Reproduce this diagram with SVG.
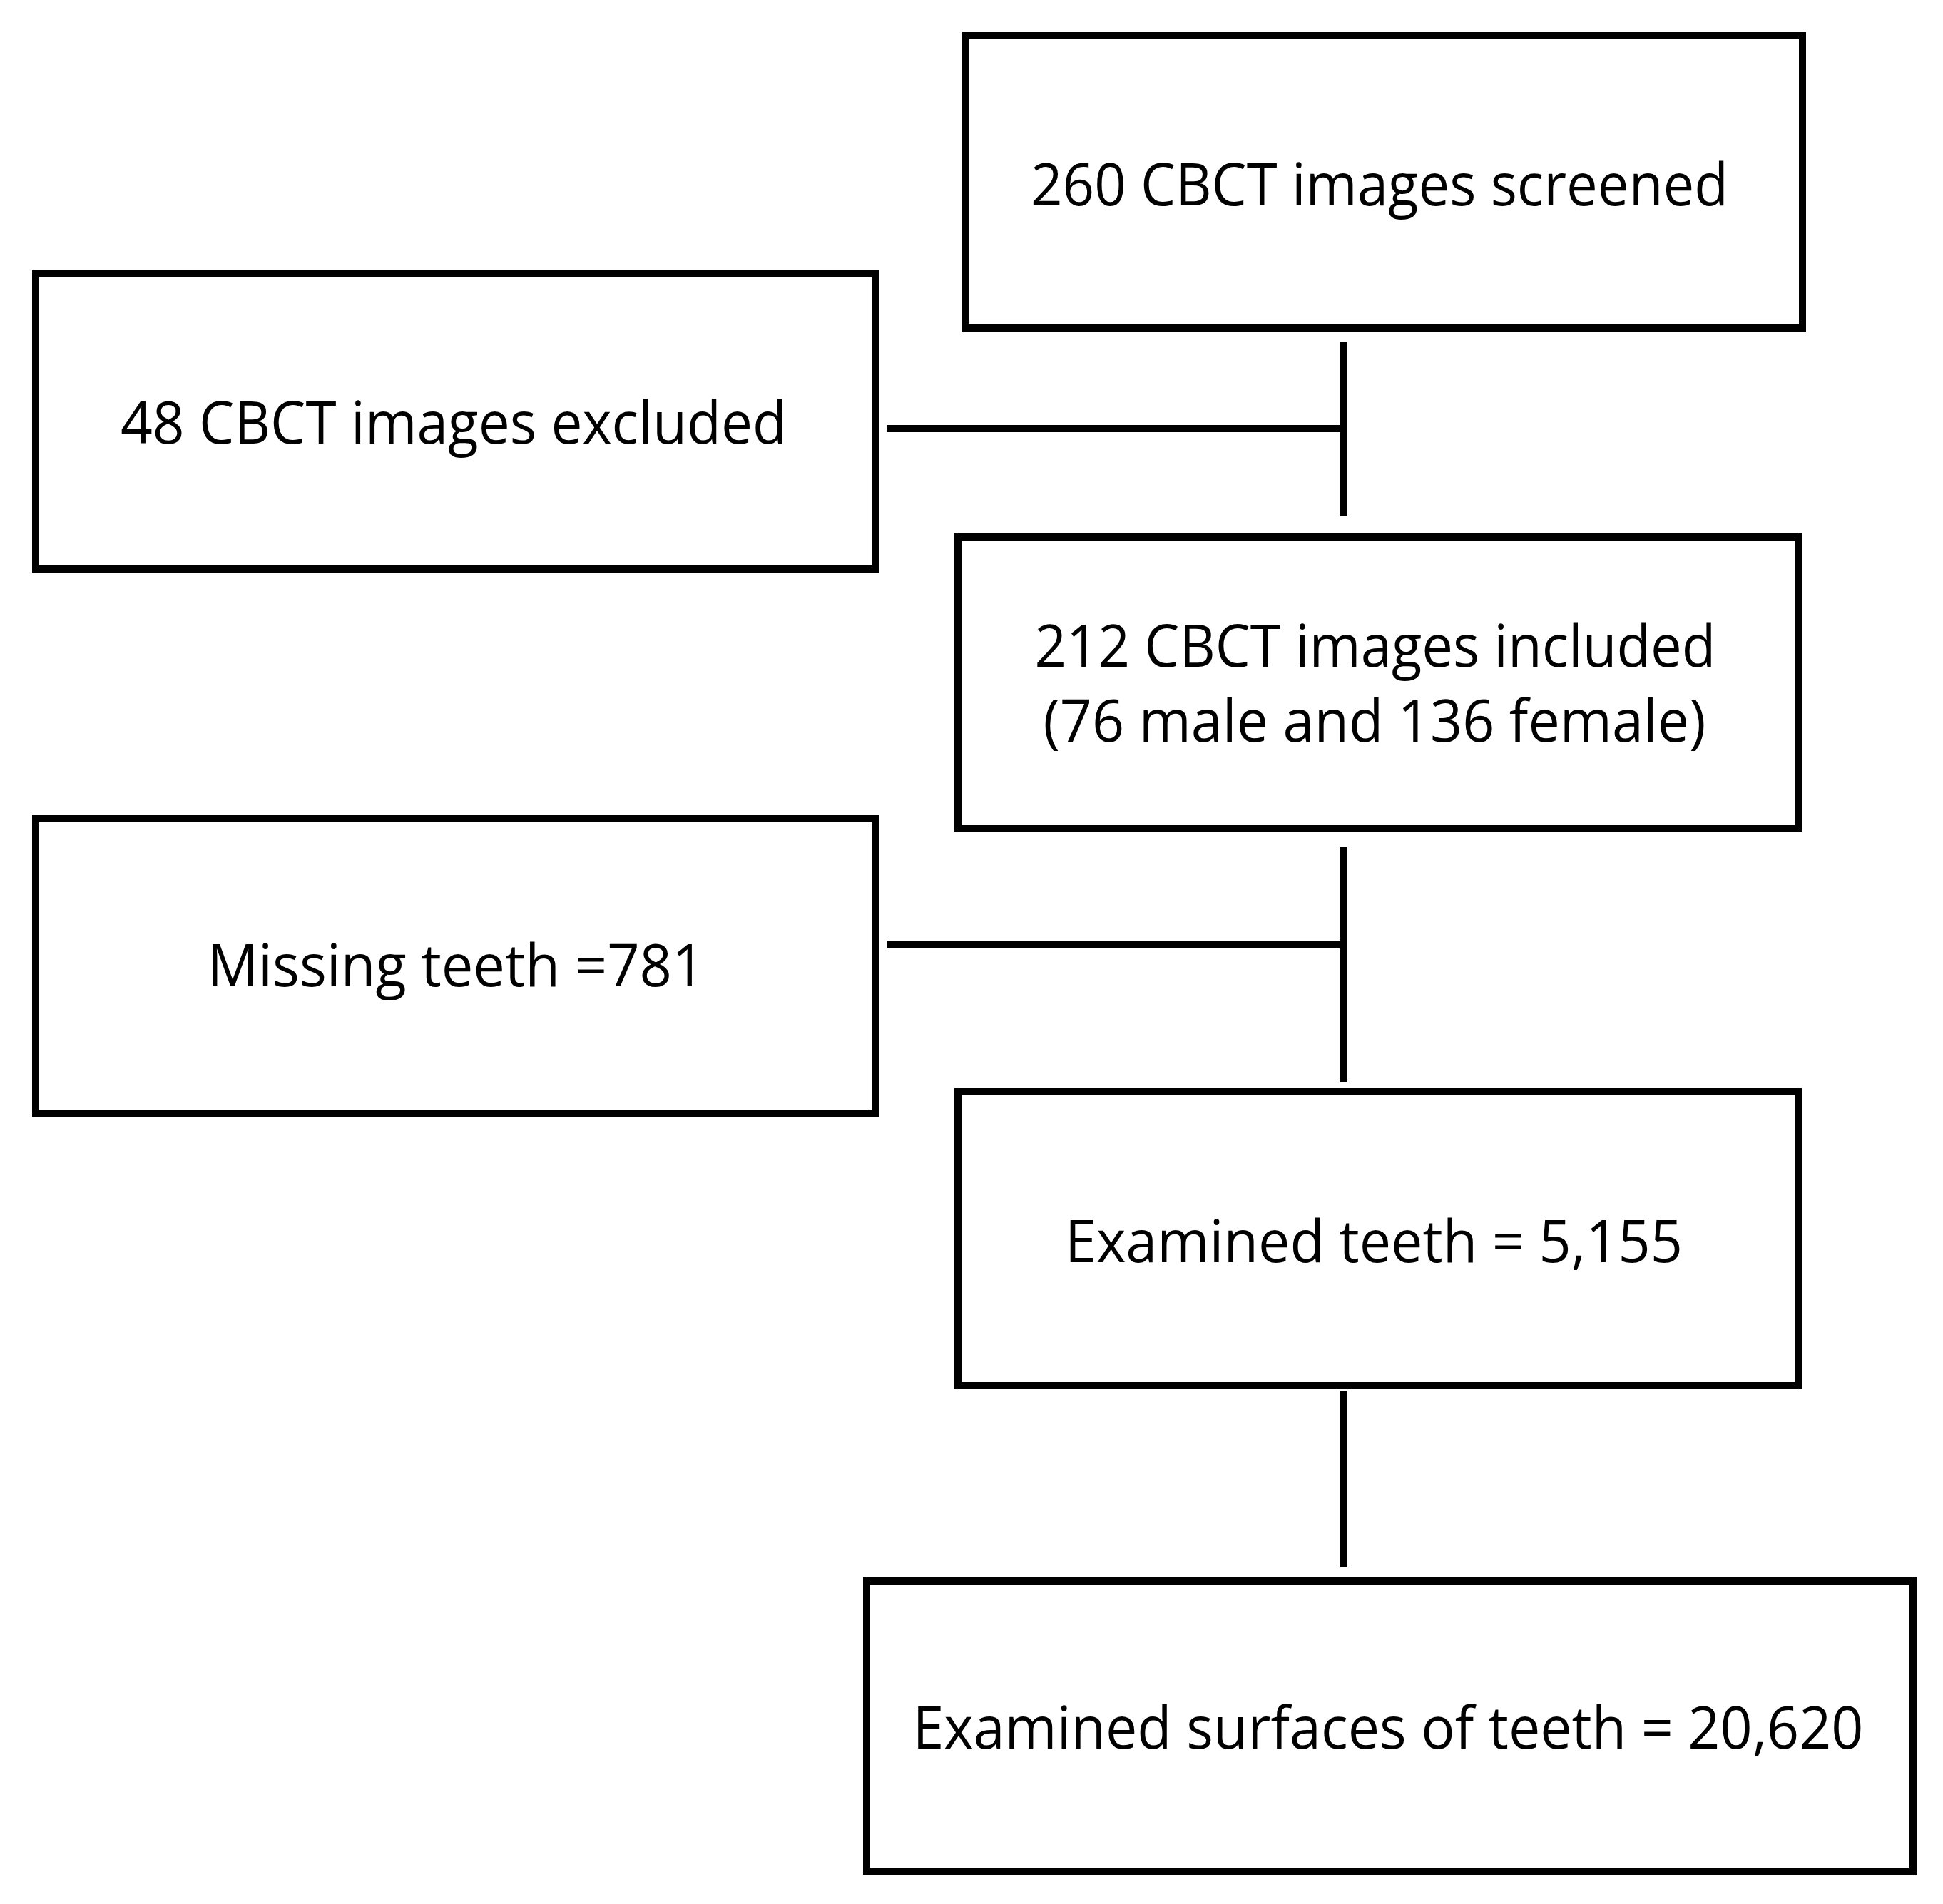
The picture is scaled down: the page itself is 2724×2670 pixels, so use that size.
<svg xmlns="http://www.w3.org/2000/svg" width="2724" height="2670" viewBox="0 0 2724 2670">
<style>
.box{fill:#fff;stroke:#000;stroke-width:10}
.lbl{font-family:"Open Sans","Noto Sans","Liberation Sans",sans-serif;font-size:82px;fill:#000;text-anchor:middle}
.con{stroke:#000;stroke-width:10;fill:none}
</style>
<rect x="0" y="0" width="2724" height="2670" fill="#fff"/>
<g id="connectors">
<line class="con" x1="1884" y1="480" x2="1884" y2="723"/>
<line class="con" x1="1243" y1="601" x2="1884" y2="601"/>
<line class="con" x1="1884" y1="1188" x2="1884" y2="1517"/>
<line class="con" x1="1243" y1="1324" x2="1884" y2="1324"/>
<line class="con" x1="1884" y1="1950" x2="1884" y2="2198"/>
</g>
<g id="screened">
<rect class="box" x="1354" y="50" width="1173" height="410"/>
<text class="lbl" x="1934" y="288" textLength="978" lengthAdjust="spacingAndGlyphs">260 CBCT images screened</text>
</g>
<g id="excluded">
<rect class="box" x="50" y="384" width="1177" height="414"/>
<text class="lbl" x="636" y="622" textLength="934" lengthAdjust="spacingAndGlyphs">48 CBCT images excluded</text>
</g>
<g id="included">
<rect class="box" x="1343" y="753" width="1178" height="409"/>
<text class="lbl" x="1928" y="935" textLength="955" lengthAdjust="spacingAndGlyphs">212 CBCT images included</text>
<text class="lbl" x="1927" y="1040" textLength="929" lengthAdjust="spacingAndGlyphs">(76 male and 136 female)</text>
</g>
<g id="missing">
<rect class="box" x="50" y="1148" width="1177" height="413"/>
<text class="lbl" x="639" y="1383" textLength="697" lengthAdjust="spacingAndGlyphs">Missing teeth =781</text>
</g>
<g id="examined-teeth">
<rect class="box" x="1343" y="1531" width="1178" height="412"/>
<text class="lbl" x="1926" y="1770" textLength="866" lengthAdjust="spacingAndGlyphs">Examined teeth = 5,155</text>
</g>
<g id="examined-surfaces">
<rect class="box" x="1215" y="2217" width="1467" height="407"/>
<text class="lbl" x="1946" y="2452" textLength="1333" lengthAdjust="spacingAndGlyphs">Examined surfaces of teeth = 20,620</text>
</g>
</svg>
